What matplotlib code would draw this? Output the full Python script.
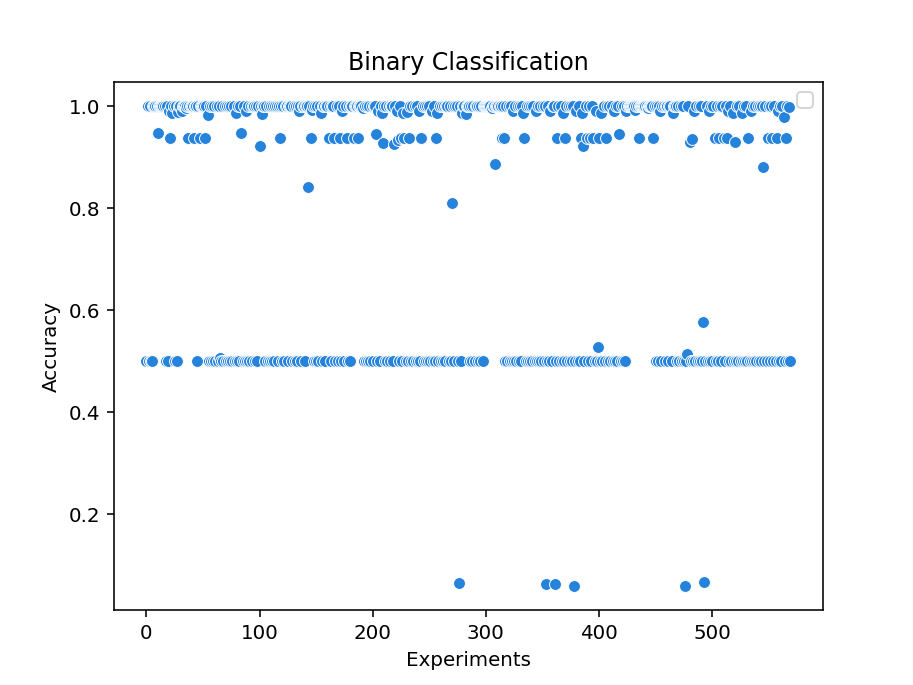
import numpy as np
import pandas as pd
import matplotlib
matplotlib.use("Agg")
import matplotlib.pyplot as plt
import seaborn as sns

title = "Binary Classification"
x_label = "Experiments"
y_label = "Accuracy"

accuracy = [
    0.5, 1.0, 0.5, 1.0, 0.5, 0.5, 1.0, 1.0, 1.0, 1.0,
    0.947, 1.0, 1.0, 1.0, 1.0, 1.0, 1.0, 0.5, 1.0, 0.5,
    0.99, 0.937, 1.0, 0.985, 1.0, 0.5, 1.0, 0.5, 0.988, 1.0,
    1.0, 0.99, 1.0, 1.0, 1.0, 0.995, 1.0, 0.937, 1.0, 1.0,
    1.0, 1.0, 0.937, 1.0, 1.0, 0.5, 1.0, 0.937, 1.0, 1.0,
    1.0, 1.0, 0.937, 1.0, 0.982, 0.5, 1.0, 0.5, 1.0, 0.5,
    1.0, 0.5, 1.0, 0.5, 1.0, 0.505, 0.5, 1.0, 0.5, 1.0,
    0.5, 1.0, 0.5, 1.0, 0.5, 1.0, 0.5, 1.0, 0.5, 0.985,
    0.5, 1.0, 0.5, 1.0, 0.947, 0.5, 1.0, 0.5, 0.99, 0.5,
    1.0, 0.5, 1.0, 0.5, 1.0, 1.0, 0.5, 1.0, 0.5, 1.0,
    0.922, 1.0, 0.984, 1.0, 1.0, 0.5, 1.0, 0.5, 1.0, 0.5,
    1.0, 0.5, 1.0, 0.5, 1.0, 1.0, 0.5, 1.0, 0.937, 1.0,
    0.5, 1.0, 0.5, 1.0, 1.0, 0.5, 1.0, 1.0, 1.0, 0.5,
    1.0, 0.5, 1.0, 0.5, 1.0, 0.99, 1.0, 0.5, 1.0, 1.0,
    0.5, 1.0, 1.0, 0.84, 1.0, 0.937, 0.992, 1.0, 0.5, 1.0,
    0.5, 1.0, 0.5, 1.0, 0.985, 0.5, 1.0, 1.0, 0.5, 1.0,
    1.0, 0.937, 1.0, 0.5, 1.0, 1.0, 0.937, 0.5, 1.0, 0.5,
    1.0, 0.937, 0.5, 0.99, 1.0, 0.5, 1.0, 0.937, 0.5, 1.0,
    0.5, 1.0, 1.0, 0.937, 1.0, 1.0, 1.0, 0.937, 1.0, 1.0,
    1.0, 0.995, 0.5, 1.0, 0.5, 1.0, 0.5, 1.0, 0.5, 1.0,
    0.5, 1.0, 1.0, 0.944, 0.5, 0.99, 0.5, 1.0, 0.985, 0.927,
    1.0, 0.5, 1.0, 0.5, 1.0, 0.5, 1.0, 1.0, 0.5, 0.925,
    1.0, 0.99, 0.933, 0.5, 1.0, 0.937, 0.5, 0.985, 0.937, 0.5,
    0.988, 0.5, 0.937, 1.0, 0.5, 1.0, 0.5, 1.0, 0.5, 1.0,
    0.5, 0.99, 0.5, 0.937, 1.0, 0.5, 1.0, 0.5, 1.0, 0.5,
    1.0, 0.5, 0.99, 0.5, 1.0, 0.5, 0.937, 0.985, 0.5, 1.0,
    0.5, 1.0, 0.5, 1.0, 0.5, 1.0, 1.0, 0.5, 1.0, 0.5,
    0.81, 1.0, 0.5, 1.0, 1.0, 0.5, 0.065, 1.0, 0.5, 0.985,
    1.0, 1.0, 0.983, 1.0, 1.0, 1.0, 0.5, 1.0, 0.5, 1.0,
    0.5, 1.0, 1.0, 0.5, 1.0, 0.5, 1.0, 0.5, 1.0, 1.0,
    1.0, 1.0, 1.0, 1.0, 1.0, 0.995, 1.0, 1.0, 0.886, 1.0,
    1.0, 1.0, 1.0, 1.0, 0.937, 1.0, 0.937, 0.5, 1.0, 0.5,
    1.0, 0.5, 1.0, 0.5, 0.99, 0.5, 1.0, 0.5, 1.0, 0.5,
    1.0, 0.5, 1.0, 0.985, 0.937, 0.5, 1.0, 0.5, 1.0, 0.5,
    1.0, 0.5, 1.0, 0.5, 0.99, 0.5, 1.0, 0.5, 1.0, 0.5,
    1.0, 0.5, 1.0, 0.063, 0.5, 1.0, 0.5, 0.99, 0.5, 1.0,
    1.0, 0.063, 0.5, 0.937, 1.0, 0.5, 1.0, 0.5, 0.985, 0.5,
    0.937, 1.0, 0.5, 1.0, 0.5, 1.0, 0.5, 1.0, 0.06, 0.5,
    0.99, 0.5, 1.0, 0.5, 0.937, 0.985, 0.922, 0.5, 1.0, 0.937,
    0.5, 1.0, 0.937, 0.5, 1.0, 0.937, 0.5, 0.99, 0.5, 0.527,
    0.937, 0.5, 0.985, 0.5, 1.0, 0.5, 0.937, 1.0, 0.5, 1.0,
    0.5, 1.0, 0.5, 0.99, 0.5, 1.0, 0.5, 1.0, 0.944, 0.5,
    1.0, 0.5, 1.0, 0.5, 0.99, 1.0, 1.0, 1.0, 1.0, 1.0,
    1.0, 1.0, 0.992, 1.0, 1.0, 0.937, 1.0, 1.0, 1.0, 1.0,
    1.0, 1.0, 1.0, 0.995, 1.0, 1.0, 1.0, 1.0, 0.937, 1.0,
    0.5, 1.0, 0.5, 1.0, 0.99, 0.5, 1.0, 1.0, 0.5, 1.0,
    1.0, 0.5, 1.0, 1.0, 0.5, 0.985, 1.0, 1.0, 1.0, 0.5,
    1.0, 0.5, 1.0, 0.5, 1.0, 0.5, 0.06, 0.5, 0.514, 1.0,
    0.93, 0.5, 0.935, 0.5, 0.99, 0.5, 1.0, 0.5, 1.0, 0.5,
    1.0, 0.5, 0.576, 0.068, 0.5, 1.0, 0.5, 0.99, 0.5, 1.0,
    0.5, 1.0, 0.937, 0.5, 1.0, 0.5, 0.937, 1.0, 0.5, 1.0,
    0.937, 0.5, 1.0, 0.937, 0.99, 0.5, 1.0, 0.5, 0.985, 0.5,
    0.93, 0.5, 1.0, 0.5, 1.0, 0.5, 0.985, 0.5, 1.0, 0.5,
    1.0, 0.5, 0.937, 0.5, 0.99, 0.5, 1.0, 0.5, 1.0, 0.5,
    1.0, 0.5, 1.0, 0.5, 1.0, 0.881, 0.5, 1.0, 0.5, 0.937,
    1.0, 0.5, 1.0, 0.937, 0.5, 1.0, 0.5, 0.937, 0.99, 0.5,
    1.0, 0.5, 1.0, 0.979, 0.5, 0.937, 1.0, 0.5, 0.997, 0.5,
]
experiments = list(range(len(accuracy)))

df = pd.DataFrame({"Experiments": experiments, "Accuracy": accuracy})

fig, ax = plt.subplots(figsize=(6.4, 4.8), dpi=142.8)
sns.scatterplot(data=df, x="Experiments", y="Accuracy", color="#2583dc", ax=ax)
ax.set_title(title)
ax.set_xlabel(x_label)
ax.set_ylabel(y_label)
ax.legend(loc="upper right")
fig.savefig("out.png", dpi=142.8)
